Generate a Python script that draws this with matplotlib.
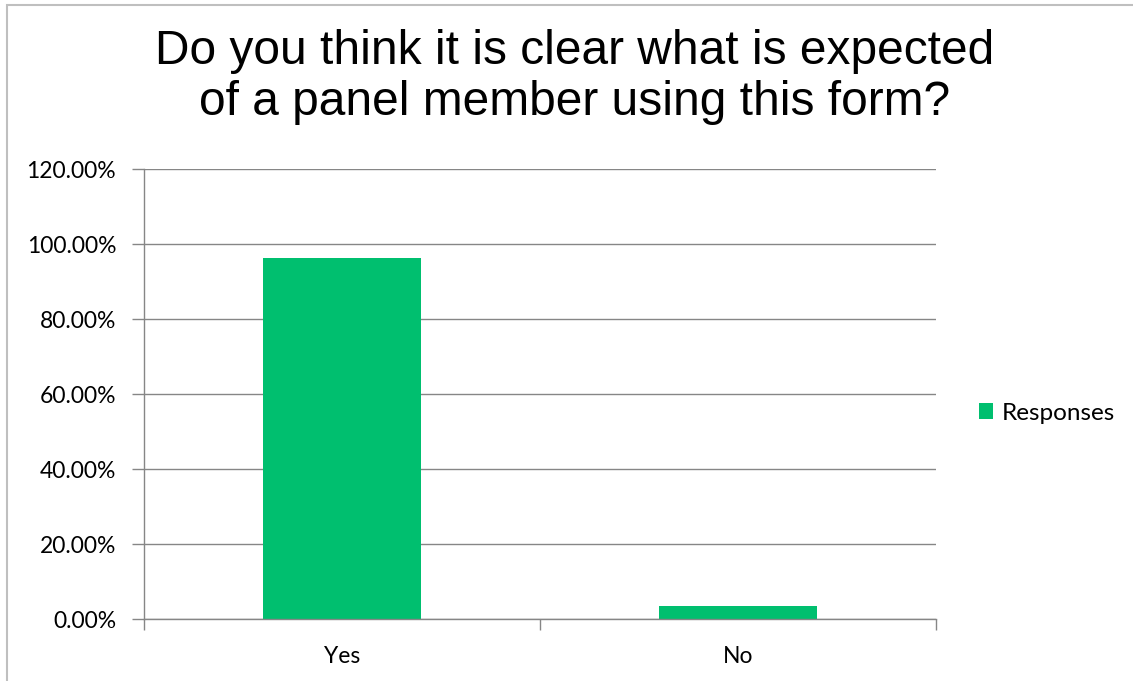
import matplotlib
matplotlib.use("Agg")
import matplotlib.pyplot as plt
from matplotlib.patches import Rectangle
from matplotlib.ticker import FixedLocator, PercentFormatter

categories = ["Yes", "No"]
responses = [96.43, 3.57]
y_ticks = [0, 20, 40, 60, 80, 100, 120]
series_name = "Responses"
title = "Do you think it is clear what is expected\nof a panel member using this form?"

bar_color = "#00BF6F"
grid_color = "#868686"

fig = plt.figure(figsize=(11.33, 6.81), dpi=100)
fig.patch.set_facecolor("white")

# outer chart frame
fig.patches.append(Rectangle((6.5 / 1133, -0.01), 1.02, 1 - 5 / 681 + 0.01,
                             transform=fig.transFigure, fill=False,
                             edgecolor="#BFBFBF", linewidth=1.5))

ax = fig.add_axes([144 / 1133, 1 - 619.3 / 681, (936 - 144) / 1133, (619.3 - 169.3) / 681])

x = list(range(len(categories)))
bars = ax.bar(x, responses, width=0.4, color=bar_color, label=series_name, zorder=3)

ax.set_xlim(-0.5, len(categories) - 0.5)
ax.set_ylim(0, 120)
ax.set_yticks(y_ticks)
ax.yaxis.set_major_formatter(PercentFormatter(decimals=2))

ax.set_xticks(x)
ax.set_xticklabels(categories)
ax.xaxis.set_minor_locator(FixedLocator([i - 0.5 for i in range(len(categories) + 1)]))
ax.tick_params(axis="x", which="major", length=0, pad=19)
ax.tick_params(axis="x", which="minor", length=8, color=grid_color, width=1)
ax.tick_params(axis="y", length=9, color=grid_color, width=1, pad=11)

for lbl in ax.get_xticklabels() + ax.get_yticklabels():
    lbl.set_fontfamily("Lato")
    lbl.set_fontsize(16.5)
    lbl.set_color("black")

ax.grid(axis="y", color=grid_color, linewidth=1, zorder=0)
for s in ["top", "right"]:
    ax.spines[s].set_visible(False)
for s in ["left", "bottom"]:
    ax.spines[s].set_color(grid_color)
    ax.spines[s].set_linewidth(1)
    ax.spines[s].set_zorder(4)

fig.text(0.507, 1 - 77 / 681, title, ha="center", va="center",
         fontsize=34.5, fontfamily="Liberation Sans", linespacing=1.18)

fig.legend(handles=[bars], labels=[series_name], loc="center left",
           bbox_to_anchor=(957 / 1133, 1 - 413 / 681), frameon=False,
           handlelength=0.6, handleheight=0.6, handletextpad=0.35,
           prop={"family": "Lato", "size": 17.5})

fig.savefig("out.png", dpi=100, facecolor="white")
